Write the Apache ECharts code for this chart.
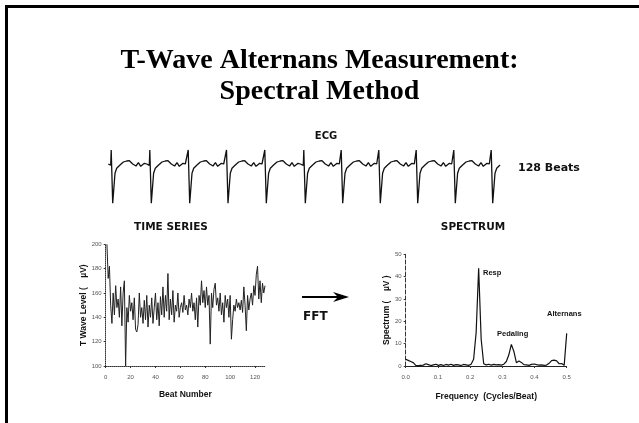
<!DOCTYPE html>
<html>
<head>
<meta charset="utf-8">
<script src="https://cdn.jsdelivr.net/npm/echarts@6/dist/echarts.min.js"></script>
<style>
html,body{margin:0;padding:0;background:#fff;}
#chart{width:639px;height:423px;}
</style>
</head>
<body>
<div id="chart"></div>
<script>
// ---------- DATA ----------
// ECG: one beat template [offset, amplitude] read from the trace, and onsets of the 11 shown beats
const ecgLead = [[-2.4, 1]];
const ecgBeat = [[0,-0.3],[0.5,15],[2,-38.3],[4.3,-8.3],[6,-3.3],[9.3,0],[12.7,3],[16,4],[18.7,4.3],[22,1],[25.3,-1],[27.7,2.3],[30,-1.3],[32,-2.3],[33.7,1.7],[36,1],[37.7,-0.3]];
const ecgOnsets = [0, 38.6, 77, 115.3, 153.6, 192.6, 230, 267.6, 305, 342.6, 380];
const ecgEnd = 392;

// T-wave level (uV) for beats 1..128
const twave = [
 200,172,182,150,135,160,142,166,148,155,140,165,133,160,170,100,148,136,158,145,
 152,138,156,130,128,134,160,140,148,135,154,138,158,132,150,140,156,135,148,160,
 138,152,133,157,142,165,140,158,145,176,138,155,142,162,136,150,145,160,140,148,
 152,144,158,146,150,142,155,148,160,145,152,138,156,132,158,150,170,152,162,148,
 165,150,158,118,160,148,163,168,150,156,145,160,142,152,136,158,148,155,140,158,
 122,138,150,145,155,148,152,146,154,144,165,150,129,158,146,155,160,150,166,158,
 175,182,155,170,152,168,160,166
];
const tsXTicks = [0,20,40,60,80,100,120];
const tsYTicks = [100,120,140,160,180,200];

// Spectrum (uV) at FFT bins k/128, k = 0..64
const spectrum = [
 3.0,2.5,2.0,1.5,0.3,0.2,0.3,0.4,1.0,0.6,0.2,0.5,0.8,0.3,0.6,0.2,0.7,0.4,0.8,0.3,
 0.6,0.5,0.2,0.7,0.5,0.3,0.8,3.0,15,43.7,12,1.0,0.5,0.8,0.4,0.7,0.5,0.6,0.4,0.8,
 2.0,5.0,9.7,6.5,1.5,2.2,1.6,0.6,0.5,0.3,0.7,0.9,0.6,0.4,0.5,0.3,0.4,1.2,2.4,2.6,
 2.3,1.0,1.1,0.3,14.6
];
const nBeats = 128;
const spXTicks = ['0.0','0.1','0.2','0.3','0.4','0.5'];
const spYTicks = [0,10,20,30,40,50];

// ---------- BUILD ----------
const ecgData = ecgLead.slice();
ecgOnsets.forEach(o => ecgBeat.forEach(p => { if (o + p[0] <= ecgEnd) ecgData.push([o + p[0], p[1]]); }));
const tsData = twave.map((v, i) => [i + 1, v]);
const spData = spectrum.map((v, k) => [k / nBeats, v]);

const sans = 'Liberation Sans';
const wide = 'DejaVu Sans';
const tickLbl = {fontSize: 6, color: '#555', fontFamily: sans};
const nameStyle = {fontSize: 8.5, fontWeight: 'bold', color: '#111', fontFamily: sans};

const chart = echarts.init(document.getElementById('chart'), null, {renderer: 'canvas'});
chart.setOption({
  backgroundColor: '#fff',
  animation: false,
  title: [{
    text: 'T-Wave Alternans Measurement:\nSpectral Method',
    left: 'center', top: 40,
    textStyle: {fontFamily: 'Liberation Serif', fontWeight: 'bold', fontSize: 28, lineHeight: 31, color: '#000'}
  }],
  grid: [
    {left: 108.3, top: 149, width: 394.4, height: 56, outerBoundsMode: 'none'},
    {left: 105.7, top: 244.3, width: 159.3, height: 121.7, outerBoundsMode: 'none'},
    {left: 405.7, top: 254.3, width: 161, height: 111.7, outerBoundsMode: 'none'}
  ],
  xAxis: [
    {gridIndex: 0, type: 'value', min: -2.4, max: ecgEnd, show: false},
    {gridIndex: 1, type: 'value', min: 0, max: 128, interval: 20,
     axisLine: {lineStyle: {color: '#333', type: 'dotted', width: 1}},
     axisTick: {show: true, length: 2, lineStyle: {color: '#333'}},
     splitLine: {show: false},
     axisLabel: {...tickLbl, margin: 8, showMaxLabel: false,
       formatter: v => tsXTicks.indexOf(v) >= 0 ? String(v) : ''},
     name: 'Beat Number', nameLocation: 'middle', nameGap: 24, nameTextStyle: nameStyle},
    {gridIndex: 2, type: 'value', min: 0, max: 0.5, interval: 0.1,
     axisLine: {lineStyle: {color: '#222', width: 1}},
     axisTick: {show: true, length: 2, lineStyle: {color: '#333'}},
     splitLine: {show: false},
     axisLabel: {...tickLbl, margin: 8, formatter: v => spXTicks[Math.round(v * 10)]},
     name: 'Frequency  (Cycles/Beat)', nameLocation: 'middle', nameGap: 26, nameTextStyle: nameStyle}
  ],
  yAxis: [
    {gridIndex: 0, type: 'value', min: -40, max: 16, show: false},
    {gridIndex: 1, type: 'value', min: tsYTicks[0], max: tsYTicks[tsYTicks.length - 1], interval: 20,
     axisLine: {show: true, lineStyle: {color: '#333', type: 'dotted', width: 1}},
     axisTick: {show: true, length: 2, lineStyle: {color: '#333'}},
     splitLine: {show: false},
     axisLabel: {...tickLbl, margin: 4},
     name: 'T Wave Level (    \u00b5V)', nameLocation: 'middle', nameRotate: 90, nameGap: 16, nameTextStyle: nameStyle},
    {gridIndex: 2, type: 'value', min: spYTicks[0], max: spYTicks[spYTicks.length - 1], interval: 10,
     axisLine: {show: true, lineStyle: {color: '#333', type: 'dashed', width: 1}},
     axisTick: {show: true, length: 2, lineStyle: {color: '#333'}},
     splitLine: {show: false},
     axisLabel: {...tickLbl, margin: 4},
     name: 'Spectrum (    \u00b5V )', nameLocation: 'middle', nameRotate: 90, nameGap: 15, nameTextStyle: nameStyle}
  ],
  series: [
    {type: 'line', xAxisIndex: 0, yAxisIndex: 0, data: ecgData, showSymbol: false, symbol: 'none',
     lineStyle: {color: '#111', width: 1.3}},
    {type: 'line', xAxisIndex: 1, yAxisIndex: 1, data: tsData, showSymbol: false, symbol: 'none',
     lineStyle: {color: '#222', width: 1}},
    {type: 'line', xAxisIndex: 2, yAxisIndex: 2, data: spData, showSymbol: false, symbol: 'none',
     lineStyle: {color: '#111', width: 1.2}}
  ],
  graphic: [
    {type: 'polyline', shape: {points: [[6.5, 423], [6.5, 6.5], [639, 6.5]]}, style: {stroke: '#000', lineWidth: 3, fill: null}},
    {type: 'text', x: 326, y: 136, style: {text: 'ECG', fontFamily: wide, fontWeight: 'bold', fontSize: 10, fill: '#111', textAlign: 'center', textVerticalAlign: 'middle'}},
    {type: 'text', x: 518, y: 168, style: {text: '128 Beats', fontFamily: wide, fontWeight: 'bold', fontSize: 11, fill: '#111', textAlign: 'left', textVerticalAlign: 'middle'}},
    {type: 'text', x: 171, y: 227, style: {text: 'TIME SERIES', fontFamily: wide, fontWeight: 'bold', fontSize: 10.5, fill: '#111', textAlign: 'center', textVerticalAlign: 'middle'}},
    {type: 'text', x: 473, y: 227, style: {text: 'SPECTRUM', fontFamily: wide, fontWeight: 'bold', fontSize: 10.5, fill: '#111', textAlign: 'center', textVerticalAlign: 'middle'}},
    {type: 'line', shape: {x1: 302, y1: 297, x2: 340, y2: 297}, style: {stroke: '#000', lineWidth: 2}},
    {type: 'polygon', shape: {points: [[349, 297], [333, 292], [338, 297], [333, 302]]}, style: {fill: '#000'}},
    {type: 'text', x: 303, y: 317, style: {text: 'FFT', fontFamily: wide, fontWeight: 'bold', fontSize: 12, fill: '#111', textAlign: 'left', textVerticalAlign: 'middle'}},
    {type: 'text', x: 483, y: 272.7, style: {text: 'Resp', fontFamily: sans, fontWeight: 'bold', fontSize: 7.5, fill: '#111', textAlign: 'left', textVerticalAlign: 'middle'}},
    {type: 'text', x: 497, y: 334, style: {text: 'Pedaling', fontFamily: sans, fontWeight: 'bold', fontSize: 7.5, fill: '#111', textAlign: 'left', textVerticalAlign: 'middle'}},
    {type: 'text', x: 547, y: 314, style: {text: 'Alternans', fontFamily: sans, fontWeight: 'bold', fontSize: 7.5, fill: '#111', textAlign: 'left', textVerticalAlign: 'middle'}}
  ]
});
</script>
</body>
</html>
